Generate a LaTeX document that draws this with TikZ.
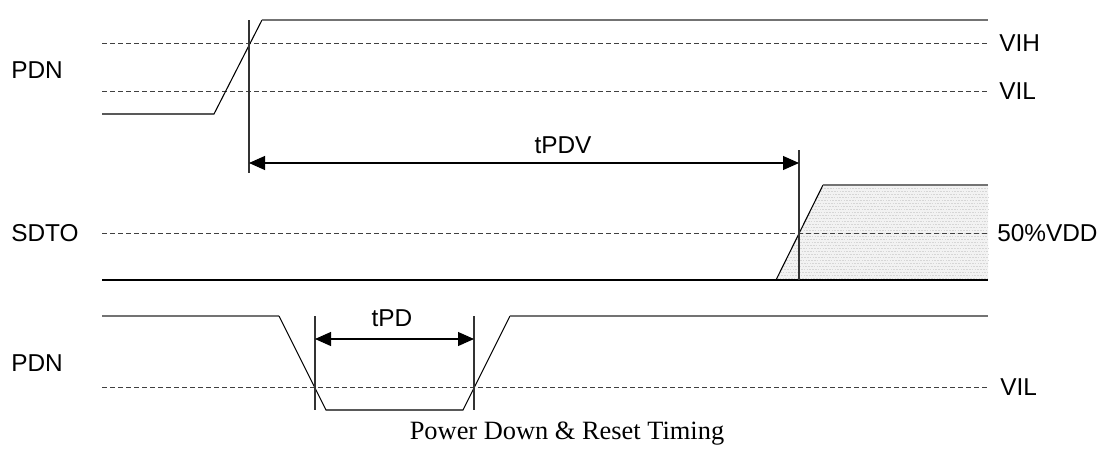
\documentclass[tikz,border=0pt]{standalone}
\usepackage{fontspec}
\setmainfont{Liberation Serif}
\newfontfamily\lblfont{Liberation Sans}
\usetikzlibrary{arrows.meta}
\begin{document}
\begin{tikzpicture}[x=0.75pt,y=-0.75pt,
  lbl/.style={inner sep=0pt,font=\lblfont\fontsize{18.3}{22}\selectfont},
  hiline/.style={draw=black!55,line width=1.5pt},
  sigline/.style={draw=black,line width=0.8pt},
  refline/.style={draw=black!75,line width=0.7pt,dash pattern=on 3.6pt off 2.4pt},
  markline/.style={draw=black!80,line width=0.8pt},
  dimarrow/.style={draw=black,line width=0.8pt,{Triangle[length=12pt,width=10.5pt]}-{Triangle[length=12pt,width=10.5pt]}},
  shade/.style={fill=black!5,draw=none}]
\useasboundingbox (0,0) rectangle (1113,450);
% ---------- top PDN ----------
\coordinate (a0) at (102,114);
\coordinate (a1) at (214,114);
\coordinate (a2) at (262,20);
\coordinate (a3) at (988,20);
\coordinate (vihL) at (102,43);
\coordinate (vihR) at (988,43);
\coordinate (vilL) at (102,91);
\coordinate (vilR) at (988,91);
\draw[refline] (vihL) -- (vihR);
\draw[refline] (vilL) -- (vilR);
\draw[sigline] (a0) -- (a1) -- (a2);
\draw[hiline] (a2) -- (a3);
\coordinate (m1t) at (249,20);
\coordinate (m1b) at (249,173);
\draw[markline] (m1t) -- (m1b);
% ---------- SDTO ----------
\coordinate (s0) at (102,280);
\coordinate (s1) at (776,280);
\coordinate (s2) at (823,185);
\coordinate (s3) at (988,185);
\coordinate (s4) at (988,280);
\fill[shade] (s1) -- (s2) -- (s3) -- (s4) -- cycle;
\foreach \yy in {188,191,...,278} {
  \draw[black!16,line width=0.4pt,dash pattern=on 1.2pt off 0.9pt] ({max(776+(280-\yy)*47/95,776)},\yy) -- (988,\yy);
}
\coordinate (vddL) at (102,233);
\coordinate (vddR) at (988,233);
\draw[refline] (vddL) -- (vddR);
\draw[sigline] (s0) -- (s4);
\draw[sigline] (s1) -- (s2);
\draw[hiline] (s2) -- (s3);
\coordinate (m2t) at (799,150);
\coordinate (m2b) at (799,280);
\draw[markline] (m2t) -- (m2b);
% tPDV
\coordinate (d1a) at (249,163);
\coordinate (d1b) at (799,163);
\draw[dimarrow] (d1a) -- (d1b);
% ---------- bottom PDN ----------
\coordinate (b0) at (102,316);
\coordinate (b1) at (279,316);
\coordinate (b2) at (326,410);
\coordinate (b3) at (463,410);
\coordinate (b4) at (510,316);
\coordinate (b5) at (988,316);
\coordinate (vil2L) at (102,387);
\coordinate (vil2R) at (988,387);
\draw[refline] (vil2L) -- (vil2R);
\draw[hiline] (b0) -- (b1);
\draw[sigline] (b1) -- (b2) -- (b3) -- (b4);
\draw[hiline] (b4) -- (b5);
\coordinate (m3t) at (315,316);
\coordinate (m3b) at (315,410);
\coordinate (m4t) at (474,316);
\coordinate (m4b) at (474,410);
\draw[markline] (m3t) -- (m3b);
\draw[markline] (m4t) -- (m4b);
\coordinate (d2a) at (315,339);
\coordinate (d2b) at (474,339);
\draw[dimarrow] (d2a) -- (d2b);
% ---------- labels ----------
\node[lbl,anchor=west] (pdn1) at (11,70) {PDN};
\node[lbl,anchor=west] (sdto) at (11,233) {SDTO};
\node[lbl,anchor=west] (pdn2) at (11,363) {PDN};
\node[lbl,anchor=west] (vih) at (999,43) {VIH};
\node[lbl,anchor=west] (vil1) at (999,91) {VIL};
\node[lbl,anchor=west] (vdd) at (997,233) {50\%VDD};
\node[lbl,anchor=west] (vil2) at (1000,387) {VIL};
\node[lbl] (tpdv) at (563,145) {tPDV};
\node[lbl] (tpd) at (392,318) {tPD};
\node[inner sep=0pt,font=\fontsize{19.8}{23}\selectfont,anchor=base] (cap) at (567,439) {Power Down \& Reset Timing};
\end{tikzpicture}
\end{document}
